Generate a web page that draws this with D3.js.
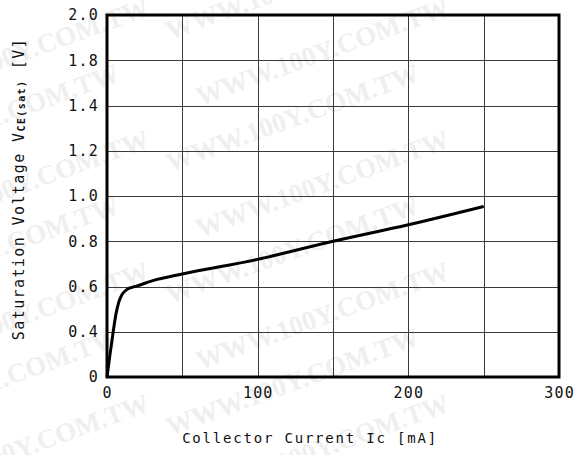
<!DOCTYPE html>
<meta charset="utf-8">
<head>
<style>
body { margin: 0; background: #fff; }
text { font-family: "DejaVu Sans Mono", monospace; fill: #111; }
.grid line { stroke: #3a3a3a; stroke-width: 1; shape-rendering: crispEdges; }
.wm { font-family: "Liberation Serif", "DejaVu Serif", serif; font-weight: bold; fill: #efefef; }
</style>
</head>
<body>
<svg width="578" height="455"></svg>
<script src="https://cdn.jsdelivr.net/npm/d3@7"></script>
<script>

// collector current (mA) vs saturation voltage (V)
var current = [0, 2, 4, 6, 8, 10, 12, 14, 17, 20, 30, 50, 100, 150, 200, 250];
var vsat    = [0, 0.2, 0.39, 0.48, 0.535, 0.565, 0.58, 0.59, 0.597, 0.603, 0.625, 0.655, 0.72, 0.8, 0.873, 0.954];

var xTicks = [0, 100, 200, 300];
var xGrid = [50, 100, 150, 200, 250];
// labels as printed on the sheet (evenly spaced)
var yTicks = [0, 0.4, 0.6, 0.8, 1.0, 1.2, 1.4, 1.8, 2.0];
var yTickLabels = ["0", "0.4", "0.6", "0.8", "1.0", "1.2", "1.4", "1.8", "2.0"];

var svg = d3.select("svg");

var pLeft = 107, pRight = 559, pTop = 15, pBottom = 377;
var step = (pBottom - pTop) / (yTicks.length - 1);

var x = d3.scaleLinear().domain([0, 300]).range([pLeft, pRight]);
var y = d3.scaleLinear().domain(yTicks).range(yTicks.map(function(d, i) { return pBottom - i * step; }));

// watermark
var wmG = svg.append("g");
for (var r = -1; r < 8; r++) {
  for (var c = 0; c < 2; c++) {
    var wx = c * 300 + (r % 2) * 30 - 150 + 20;
    var wy = r * 66 + 40;
    wmG.append("text")
      .attr("class", "wm")
      .attr("transform", "translate(" + wx + "," + wy + ") rotate(-20)")
      .style("font-size", "27px")
      .text("WWW.100Y.COM.TW");
  }
}

// grid
var grid = svg.append("g").attr("class", "grid");
grid.selectAll(".v").data(xGrid).enter().append("line")
    .attr("x1", function(d) { return Math.round(x(d)) + 0.5; })
    .attr("x2", function(d) { return Math.round(x(d)) + 0.5; })
    .attr("y1", pTop).attr("y2", pBottom);
grid.selectAll(".h").data(yTicks.slice(1, -1)).enter().append("line")
    .attr("x1", pLeft).attr("x2", pRight)
    .attr("y1", function(d) { return Math.round(y(d)) + 0.5; })
    .attr("y2", function(d) { return Math.round(y(d)) + 0.5; });

// frame
svg.append("rect")
    .attr("x", pLeft).attr("y", pTop)
    .attr("width", pRight - pLeft).attr("height", pBottom - pTop)
    .attr("fill", "none").attr("stroke", "#000").attr("stroke-width", 3);

// curve
var line = d3.line()
    .x(function(d, i) { return x(current[i]); })
    .y(function(d, i) { return y(vsat[i]); })
    .curve(d3.curveMonotoneX);

svg.append("path")
    .datum(vsat)
    .attr("d", line)
    .attr("fill", "none")
    .attr("stroke", "#000")
    .attr("stroke-width", 3)
    .attr("stroke-linejoin", "round");

// y tick labels
svg.selectAll(".ylab").data(yTicks).enter().append("text")
    .attr("x", pLeft - 8)
    .attr("y", function(d) { return y(d); })
    .attr("dy", "0.36em")
    .attr("text-anchor", "end")
    .style("font-size", "15px")
    .style("letter-spacing", "1.2px")
    .text(function(d, i) { return yTickLabels[i]; });

// x tick labels
svg.selectAll(".xlab").data(xTicks).enter().append("text")
    .attr("x", function(d) { return x(d) + 0.6; })
    .attr("y", 398)
    .attr("text-anchor", "middle")
    .style("font-size", "15px")
    .style("letter-spacing", "1.2px")
    .text(function(d) { return d; });

// axis titles
svg.append("text")
    .attr("x", 310).attr("y", 443)
    .attr("text-anchor", "middle")
    .style("font-size", "14px")
    .style("letter-spacing", "1.8px")
    .text("Collector Current Ic [mA]");

var yt = svg.append("text")
    .attr("transform", "translate(24,189) rotate(-90)")
    .attr("text-anchor", "middle")
    .style("font-size", "15px")
    .style("letter-spacing", "1.4px");
yt.append("tspan").text("Saturation Voltage V");
yt.append("tspan").style("font-size", "10px").style("font-weight", "bold").attr("dy", 1).text("CE(sat)");
yt.append("tspan").attr("dy", -1).text(" [V]");

</script>
</body>
